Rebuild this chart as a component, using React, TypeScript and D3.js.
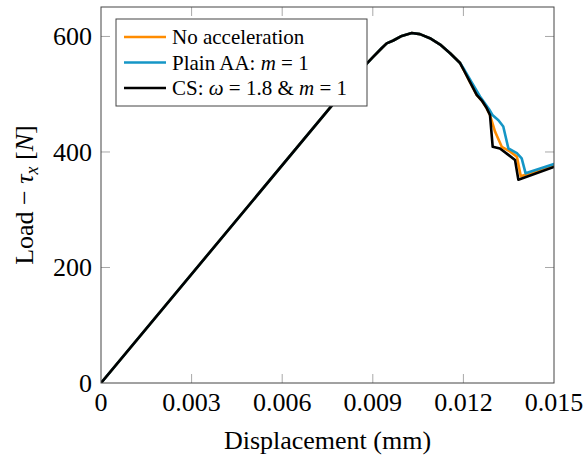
import React from "react";
import * as d3 from "d3";

// ---- data ----
const commonDisp = [0, 0.0088, 0.00902, 0.0093, 0.00946, 0.00968, 0.00996, 0.01029, 0.01056, 0.01089, 0.01123, 0.01156, 0.01189, 0.01205, 0.01222, 0.01244, 0.01261, 0.01277, 0.01288];
const commonLoad = [0, 553, 565, 580, 588, 593, 601, 606, 604, 597, 586, 571, 554, 538, 521, 499, 489, 476, 464];

const noAccDisp = [0.01305, 0.01327, 0.01354, 0.01377, 0.0139, 0.015];
const noAccLoad = [435, 409, 401, 392, 358, 376];

const plainAADisp = [0.0120, 0.01229, 0.01255, 0.01285, 0.01296, 0.01316, 0.01332, 0.01349, 0.01377, 0.01393, 0.01406, 0.015];
const plainAALoad = [545, 519, 496, 474, 464, 455, 444, 406, 398, 389, 363, 379];

const csDisp = [0.01297, 0.01321, 0.01349, 0.01371, 0.01382, 0.015];
const csLoad = [409, 406, 395, 386, 352, 374];

const xTicks = [0, 0.003, 0.006, 0.009, 0.012, 0.015];
const xTickLabels = ["0", "0.003", "0.006", "0.009", "0.012", "0.015"];
const yTicks = [0, 200, 400, 600];

const ORANGE = "#FF8C00";
const BLUE = "#1596C6";
const BLACK = "#000000";

type P = [number, number];
const zip = (a: number[], b: number[]): P[] => a.map((v, i) => [v, b[i]]);

const commonPts = zip(commonDisp, commonLoad);
const seriesNoAcc: P[] = [...commonPts, ...zip(noAccDisp, noAccLoad)];
const seriesPlain: P[] = [...commonPts.filter((p) => p[0] < 0.0119), ...zip(plainAADisp, plainAALoad)];
const seriesCS: P[] = [...commonPts, ...zip(csDisp, csLoad)];

const FONT = "'Liberation Serif', 'Times New Roman', Times, serif";

export default function App() {
  const W = 586, H = 460;
  const left = 101, right = 554, top = 7, bottom = 383;
  const x = d3.scaleLinear().domain([0, 0.015]).range([left, right]);
  const y = d3.scaleLinear().domain([0, 651]).range([bottom, top]);
  const line = d3.line<P>().x((d) => x(d[0])).y((d) => y(d[1]));
  const tickLen = 9;
  const tickColor = "#a8a8a8";

  const legendItems = [
    { color: ORANGE, label: <tspan>No acceleration</tspan> },
    { color: BLUE, label: <><tspan>Plain AA: </tspan><tspan fontStyle="italic">m</tspan><tspan> = 1</tspan></> },
    { color: BLACK, label: <><tspan>CS: </tspan><tspan fontStyle="italic">ω</tspan><tspan> = 1.8 &amp; </tspan><tspan fontStyle="italic">m</tspan><tspan> = 1</tspan></> },
  ];
  const legendY = [37, 62.5, 88];

  return (
    <svg width={W} height={H} style={{ position: "absolute", left: 0, top: 0, background: "#fff" }} fontFamily={FONT}>
      <defs>
        <clipPath id="plotClip">
          <rect x={left} y={top} width={right - left} height={bottom - top} />
        </clipPath>
      </defs>
      {/* ticks */}
      {xTicks.filter((t) => t > 0 && t < 0.015).map((t) => (
        <g key={"xt" + t} stroke={tickColor} strokeWidth={1}>
          <line x1={x(t)} x2={x(t)} y1={bottom} y2={bottom - tickLen} />
          <line x1={x(t)} x2={x(t)} y1={top} y2={top + tickLen} />
        </g>
      ))}
      {yTicks.filter((t) => t > 0).map((t) => (
        <g key={"yt" + t} stroke={tickColor} strokeWidth={1}>
          <line x1={left} x2={left + tickLen} y1={y(t)} y2={y(t)} />
          <line x1={right} x2={right - tickLen} y1={y(t)} y2={y(t)} />
        </g>
      ))}
      {/* series */}
      <g clipPath="url(#plotClip)" fill="none" strokeWidth={2.6} strokeLinejoin="round" strokeLinecap="round">
        <path d={line(seriesNoAcc) || ""} stroke={ORANGE} />
        <path d={line(seriesPlain) || ""} stroke={BLUE} />
        <path d={line(seriesCS) || ""} stroke={BLACK} />
      </g>
      {/* frame */}
      <rect x={left} y={top} width={right - left} height={bottom - top} fill="none" stroke="#444" strokeWidth={1} />
      {/* tick labels */}
      {xTicks.map((t, i) => (
        <text key={"xl" + t} x={x(t)} y={411} textAnchor="middle" fontSize={26} fill="#000">{xTickLabels[i]}</text>
      ))}
      {yTicks.map((t) => (
        <text key={"yl" + t} x={92} y={y(t) + 9} textAnchor="end" fontSize={26} fill="#000">{t}</text>
      ))}
      {/* axis labels */}
      <text x={(left + right) / 2} y={449} textAnchor="middle" fontSize={26} fill="#000">Displacement (mm)</text>
      <text transform={`translate(33, ${(top + bottom) / 2}) rotate(-90)`} textAnchor="middle" fontSize={26} fill="#000">
        <tspan>Load − </tspan><tspan fontStyle="italic">τ</tspan><tspan fontStyle="italic" fontSize={18} dy={5}>x</tspan><tspan dy={-5}> [</tspan><tspan fontStyle="italic">N</tspan><tspan>]</tspan>
      </text>
      {/* legend */}
      <rect x={116} y={19} width={251} height={87} fill="#fff" stroke="#444" strokeWidth={1} />
      {legendItems.map((it, i) => (
        <g key={"lg" + i}>
          <line x1={124} x2={166} y1={legendY[i]} y2={legendY[i]} stroke={it.color} strokeWidth={2.6} />
          <text x={172} y={legendY[i] + 7} fontSize={21} fill="#000">{it.label}</text>
        </g>
      ))}
    </svg>
  );
}
